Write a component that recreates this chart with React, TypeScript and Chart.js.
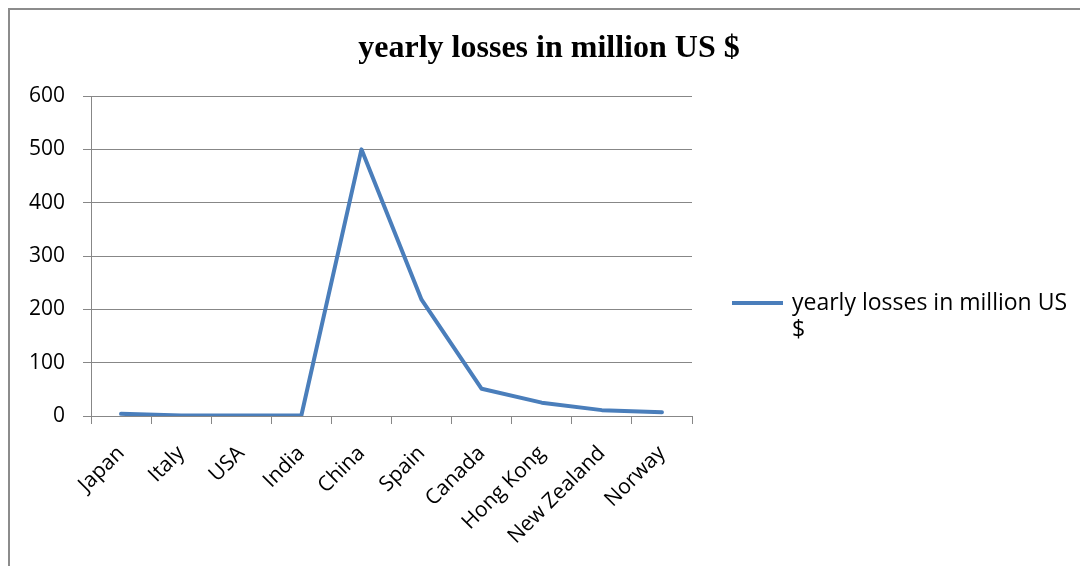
import React, { useEffect, useRef } from "react";
import { Chart, registerables } from "chart.js";

Chart.register(...registerables);

const categories = ["Japan", "Italy", "USA", "India", "China", "Spain", "Canada", "Hong Kong", "New Zealand", "Norway"];
const lossValues = [4, 1, 1, 1, 500, 218, 51, 25, 11, 7];
const yTicks = [0, 100, 200, 300, 400, 500, 600];
const seriesName = "yearly losses in million US $";
const legendLines = ["yearly losses in million US", "$"];

const LINE_COLOR = "#4A7EBB";
const AXIS_COLOR = "#878787";
const LABEL_FONT = "'Open Sans'";

const legendPlugin = {
  id: "wrappedLegend",
  afterDraw(chart: any) {
    const ctx = chart.ctx;
    ctx.save();
    ctx.strokeStyle = LINE_COLOR;
    ctx.lineWidth = 4;
    ctx.lineCap = "butt";
    ctx.beginPath();
    ctx.moveTo(722, 293);
    ctx.lineTo(773, 293);
    ctx.stroke();
    ctx.fillStyle = "#000";
    ctx.font = `23px ${LABEL_FONT}`;
    ctx.textBaseline = "middle";
    ctx.textAlign = "left";
    legendLines.forEach((t, i) => ctx.fillText(t, 782, 293 + i * 27));
    ctx.restore();
  },
};

export default function App() {
  const ref = useRef<HTMLCanvasElement>(null);
  useEffect(() => {
    if (!ref.current) return;
    const chart = new Chart(ref.current, {
      type: "line",
      data: {
        labels: categories,
        datasets: [
          {
            label: seriesName,
            data: lossValues,
            borderColor: LINE_COLOR,
            backgroundColor: LINE_COLOR,
            borderWidth: 4,
            pointRadius: 0,
            tension: 0,
            borderJoinStyle: "round",
            borderCapStyle: "round",
          },
        ],
      },
      options: {
        animation: false,
        responsive: true,
        maintainAspectRatio: false,
        layout: { padding: 0 },
        plugins: {
          legend: { display: false },
          tooltip: { enabled: false },
          title: {
            display: true,
            text: seriesName,
            color: "#000",
            font: { family: "'Liberation Serif'", size: 32, weight: "bold", lineHeight: 1.2 },
            padding: { top: 20, bottom: 27.6 },
          },
        },
        scales: {
          x: {
            type: "category",
            offset: true,
            grid: {
              display: true,
              drawOnChartArea: false,
              drawTicks: true,
              tickLength: 8,
              offset: true,
              color: AXIS_COLOR,
            },
            border: { display: true, color: AXIS_COLOR, width: 1 },
            ticks: {
              autoSkip: false,
              maxRotation: 45,
              minRotation: 45,
              padding: 17,
              color: "#000",
              font: { family: LABEL_FONT, size: 21 },
            },
            afterFit(scale: any) {
              scale.height = 150;
            },
          },
          y: {
            min: 0,
            max: 600,
            afterBuildTicks(scale: any) {
              scale.ticks = yTicks.map((v) => ({ value: v }));
            },
            grid: {
              color: AXIS_COLOR,
              tickLength: 8,
              drawTicks: true,
            },
            border: { display: true, color: AXIS_COLOR, width: 1 },
            ticks: {
              padding: 18,
              color: "#000",
              font: { family: LABEL_FONT, size: 21 },
            },
            afterFit(scale: any) {
              scale.width = 81;
            },
          },
          legendSpace: {
            position: "right",
            display: true,
            grid: { display: false, drawTicks: false },
            border: { display: false },
            ticks: { display: false },
            afterFit(scale: any) {
              scale.width = 396;
            },
          },
        },
      },
      plugins: [legendPlugin],
    });
    return () => chart.destroy();
  }, []);

  return (
    <div
      style={{
        borderTop: "2px solid #8c8c8c",
        borderLeft: "2px solid #8c8c8c",
        width: 1078,
        height: 556,
        background: "#fff",
      }}
    >
      <div style={{ position: "relative", width: 1078, height: 556 }}>
        <canvas ref={ref} />
      </div>
    </div>
  );
}
